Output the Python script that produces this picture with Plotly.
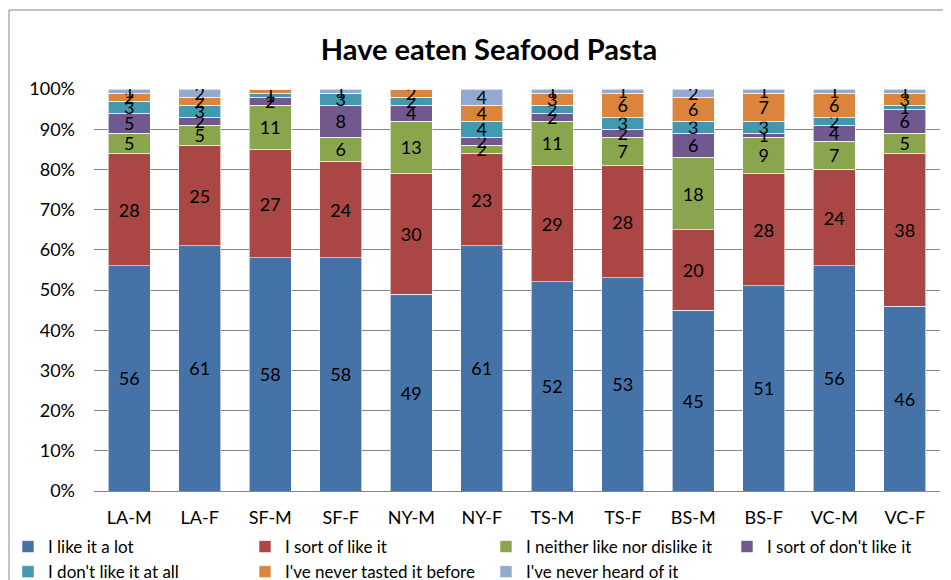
import plotly.graph_objects as go

# ── Dados ────────────────────────────────────────────────────────────────────
grupos = ["LA-M", "LA-F", "SF-M", "SF-F", "NY-M", "NY-F",
          "TS-M", "TS-F", "BS-M", "BS-F", "VC-M", "VC-F"]

like_a_lot      = [56, 61, 58, 58, 49, 61, 52, 53, 45, 51, 56, 46]
sort_of_like    = [28, 25, 27, 24, 30, 23, 29, 28, 20, 28, 24, 38]
neither         = [5, 5, 11, 6, 13, 2, 11, 7, 18, 9, 7, 5]
sort_of_dislike = [5, 2, 2, 8, 4, 2, 2, 2, 6, 1, 4, 6]
dont_like       = [3, 3, 1, 3, 2, 4, 2, 3, 3, 3, 2, 1]
never_tasted    = [2, 2, 1, 0, 2, 4, 3, 6, 6, 7, 6, 3]
never_heard     = [1, 2, 0, 1, 0, 4, 1, 1, 2, 1, 1, 1]

# nome, valores, cor, legenda (coluna da legenda estilo Excel)
series = [
    ("I like it a lot", like_a_lot, "#4572A7", "legend"),
    ("I sort of like it", sort_of_like, "#AA4643", "legend2"),
    ("I neither like nor dislike it", neither, "#89A54E", "legend3"),
    ("I sort of don't like it", sort_of_dislike, "#71588F", "legend4"),
    ("I don't like it at all", dont_like, "#4198AF", "legend"),
    ("I've never tasted it before", never_tasted, "#DB843D", "legend2"),
    ("I've never heard of it", never_heard, "#93A9CF", "legend3"),
]

FONTE = "Lato, 'Open Sans', sans-serif"
GRADE = "#868686"
W, H = 951, 580
# a página tem ~8px de margem no body: coordenadas já compensadas
ML, MR, MT, MB = 86, 19, 81, 97
PW, PH = W - ML - MR, H - MT - MB

fig = go.Figure()
for nome, valores, cor, leg in series:
    fig.add_trace(go.Bar(
        name=nome,
        x=grupos,
        y=valores,
        legend=leg,
        marker=dict(color=cor, line=dict(width=0.6, color="white")),
        text=[str(v) for v in valores],
        textposition="inside",
        insidetextanchor="middle",
        textangle=0,
        constraintext="none",
        textfont=dict(size=18, color="black", family=FONTE),
    ))


def legenda(x_px):
    return dict(
        orientation="v",
        xref="container", x=x_px / W, xanchor="left",
        yref="container", y=1 - 521 / H, yanchor="top",
        itemwidth=30,
        font=dict(size=17),
        traceorder="normal",
        bgcolor="rgba(0,0,0,0)",
        tracegroupgap=0,
    )


fig.update_layout(
    width=W, height=H,
    barmode="stack",
    bargap=0.4,
    paper_bgcolor="white",
    plot_bgcolor="white",
    font=dict(family=FONTE, color="black", size=15),
    margin=dict(l=ML, r=MR, t=MT, b=MB, autoexpand=False),
    uniformtext=dict(minsize=18, mode="show"),
    title=dict(
        text="<b>Have eaten Seafood Pasta</b>",
        font=dict(size=29, family=FONTE, color="black"),
        x=(489 - 8) / W, xanchor="center",
        y=1 - 42 / H, yref="container", yanchor="middle",
    ),
    xaxis=dict(
        showgrid=False,
        showline=True, linecolor=GRADE, linewidth=1,
        ticks="", ticklabelstandoff=10,
        tickfont=dict(size=18),
    ),
    yaxis=dict(
        range=[0, 100],
        tickvals=list(range(0, 101, 10)),
        ticktext=[f"{v}%" for v in range(0, 101, 10)],
        showgrid=True, gridcolor=GRADE, gridwidth=1,
        showline=False,
        ticks="", ticklabelstandoff=18,
        tickfont=dict(size=18),
        zeroline=False,
    ),
    legend=legenda(0),
    legend2=legenda(237),
    legend3=legenda(478),
    legend4=legenda(719),
    shapes=[dict(
        type="rect", xref="paper", yref="paper",
        x0=(1 - ML) / PW, x1=1 + (MR + 20) / PW,
        y0=-(MB + 20) / PH, y1=1 + (MT - 2) / PH,
        line=dict(color=GRADE, width=1),
    )],
)

fig.write_html("out.html")
